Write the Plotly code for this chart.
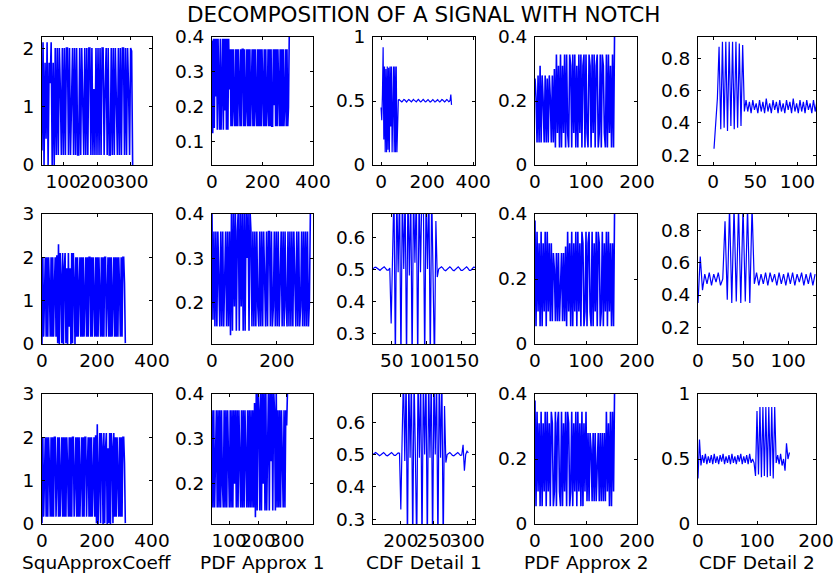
import plotly.graph_objects as go

# ---------------- data ----------------
TITLE = "DECOMPOSITION OF A SIGNAL WITH NOTCH"
XLABELS = ["SquApproxCoeff", "PDF Approx 1", "CDF Detail 1", "PDF Approx 2", "CDF Detail 2"]

# sample start / step for each series (sample positions on the x axis)
x_start = [38, 0, 0, 0, 1,
           0, 0, 23, 0, 0,
           0, 41, 158, 0, 0]
x_step = [3, 3, 3, 2, 2,
          3, 3, 2, 2, 2.5,
          3, 3, 2, 2, 2.5]

# Row 1
y11 = [0.25, 2.1, 0.0, 1.75, 0.45, 2.1, 0.0, 1.75, 1.4, 2.1, 0.0, 1.75, 0.0,
       2, .17, 2, .17, 2, 1.3, .17, 2, .17, 2,
       .17, 2, 2, .17, 2, .17, 1.3, 2, .17, 2,
       .17, 2, .17, .17, 2, .17, 2, 1.3, .17, 2,
       .17, 2, .17, 2, 2, .17, 2, .17, 1.3, .17,
       2, .17, 2, .17, 2, .17, 2, 2, .17, 1.3,
       2, .17, 2, .17, .17, 2, .17, 2, .17, 2,
       1.3, .17, 2, .17, 2, .17, 2, 2, .17, 2,
       .17, 2, 1.3, .17, 2, 1.95,
       0.0]
y12 = [0.39, 0.125, 0.395, 0.14, 0.395, 0.23, 0.395, 0.135, 0.395, 0.3, 0.135, 0.395,
       0.135, 0.25, 0.395, 0.135, 0.395, 0.19, 0.395, 0.135, 0.395, 0.135, 0.395, 0.25,
       .365, .145, .365, .145, .365, .205, .145, .365, .145, .365,
       .145, .365, .25, .145, .365, .145, .365, .365, .145, .365,
       .145, .205, .365, .145, .365, .145, .365, .145, .25, .365,
       .145, .365, .145, .365, .205, .145, .365, .145, .365, .145,
       .365, .145, .365, .25, .145, .365, .145, .365, .145, .205,
       .365, .145, .365, .145, .365, .145, .145, .365, .205, .365,
       .145, .365, .145, .365, .25, .145, .365, .145, .365, .145,
       .365, .145, .205, .365, .145, .365, .145, .2,
       0.41]
y13 = [0.45, 0.35, 0.55, 0.92, 0.2, 0.77, 0.1, 0.75, 0.1, 0.77, 0.12, 0.76,
       0.1, 0.77, 0.3, 0.77, 0.1, 0.6, 0.77, 0.1, 0.77, 0.1, 0.77, 0.1,
       0.5, 0.508, 0.512, 0.508, 0.5, 0.494,
       0.492, 0.498, 0.507, 0.512, 0.509, 0.5,
       0.494, 0.492, 0.499, 0.508, 0.512, 0.508,
       0.5, 0.494, 0.493, 0.5, 0.508, 0.512,
       0.507, 0.499, 0.493, 0.493, 0.5, 0.509,
       0.512, 0.507, 0.499, 0.493, 0.494, 0.501,
       0.509, 0.512, 0.506, 0.498, 0.493, 0.494,
       0.502, 0.51, 0.511, 0.505, 0.497, 0.492,
       0.495, 0.503, 0.51, 0.511, 0.505, 0.497,
       0.492, 0.496, 0.504, 0.511, 0.51, 0.503,
       0.496, 0.492, 0.497, 0.505, 0.511, 0.509,
       0.502, 0.495, 0.493, 0.498, 0.506, 0.511,
       0.508, 0.5, 0.494, 0.498, 0.506, 0.55, 0.47]
y14 = [0.27, 0.21, 0.07, 0.28, 0.07, 0.31, 0.07, 0.28, 0.2, 0.07,
       0.28, 0.07, 0.27, 0.07, 0.28, 0.21, 0.07, 0.28, 0.07, 0.3,
       .055, .345, .1, .31, .055, .345, .055, .31, .1, .345,
       .055, .345, .1, .055, .345, .31, .055, .345, .1, .345,
       .055, .31, .055, .345, .1, .345, .055, .31, .345, .055,
       .345, .1, .055, .345, .31, .055, .345, .1, .345, .055,
       .31, .345, .055, .1, .345, .055, .345, .31, .1, .055,
       .345, .055, .345, .1, .31, .055, .345, .055,
       0.41]
y15 = [0.24, 0.41, 0.55, 0.87, 0.36, 0.9, 0.37, 0.9, 0.35, 0.9,
       0.38, 0.9, 0.36, 0.9, 0.37, 0.89, 0.38, 0.88, 0.47,
       0.54, 0.47, 0.53, 0.46, 0.54, 0.48, 0.52, 0.46, 0.54, 0.47,
       0.53, 0.46, 0.55, 0.47, 0.52, 0.46, 0.54, 0.48, 0.53, 0.46,
       0.54, 0.47, 0.52, 0.46, 0.54, 0.48, 0.53, 0.46, 0.55, 0.47,
       0.52, 0.46, 0.54, 0.47, 0.53, 0.46, 0.54, 0.48, 0.52, 0.46,
       0.54, 0.47, 0.53]

# Row 2
y21 = [0.0, 2.0, 0.17, 1.3, 2.0, 0.17, 2.0, 0.17, 2.0, 1.3, 0.17, 2.0, 0.17, 2.0, 0.17, 1.3, 2.0, 0.17,
       2.05, 0.02, 2.3, 0.0, 2.1, 1.5, 0.02, 2.1, 0.0, 1.75, 2.1, 0.02, 1.75, 0.0, 2.1, 0.4,
       1.75, 0.0, 2.1, 0.02, 2.1, 1.4, 0.0,
       2, .17, 2, .17, 1.3, 2, .17, 2, .17, 2,
       .17, 1.3, 2, .17, 2, .17, 2, 2, .17, 2,
       .17, 2, 1.3, .17, 2, .17, 2, .17, 2, 1.3,
       .17, 2, .17, 2, .17, 2, 2, .17, 1.3, 2,
       .17, 2, .17, 2, .17, 1.3, 2, .17, 2, .17,
       2, .17, 2, 1.3, .17, 2, .17, 2, 2, 1.4,
       0.02]
y22 = [0.4, 0.16, 0.36, 0.145, 0.36, 0.145, 0.36, 0.19, 0.145, 0.36, 0.145, 0.36, 0.145,
       0.25, 0.36, 0.145, 0.36, 0.145, 0.36,
       0.125, 0.41, 0.135, 0.41, 0.19, 0.41, 0.135, 0.36, 0.41, 0.135, 0.41, 0.19, 0.41,
       0.135, 0.41, 0.135, 0.41, 0.3, 0.41, 0.135, 0.41, 0.36, 0.145,
       .36, .145, .36, .145, .36, .19, .145, .36, .145, .36,
       .145, .36, .25, .145, .36, .145, .36, .36, .145, .36,
       .145, .19, .36, .145, .36, .145, .36, .145, .25, .36,
       .145, .36, .145, .36, .19, .145, .36, .145, .36, .145,
       .36, .145, .36, .25, .145, .36, .145, .36, .145, .19,
       .36, .145, .36, .145, .36, .145, .36, .145, .2,
       0.41]
y23 = [0.5, 0.505, 0.506, 0.502, 0.497, 0.496, 0.5, 0.505, 0.507, 0.502, 0.497, 0.497, 0.503,
       0.33, 0.55,
       0.75, 0.2, 0.75, 0.49, 0.75, 0.2, 0.75, 0.5, 0.75, 0.2,
       0.75, 0.48, 0.75, 0.2, 0.75, 0.52, 0.75, 0.2, 0.75, 0.49,
       0.75, 0.75, 0.2, 0.75, 0.5, 0.75, 0.2, 0.75, 0.49, 0.2,
       0.65, 0.475,
       0.5, 0.505, 0.507, 0.503, 0.497, 0.495, 0.499, 0.505, 0.507, 0.503,
       0.497, 0.495, 0.5, 0.505, 0.507, 0.502, 0.496, 0.496, 0.5, 0.506,
       0.507, 0.502, 0.496, 0.496, 0.501, 0.506, 0.505]
y24 = [0.38, 0.055, 0.345, 0.1, 0.31, 0.055, 0.345, 0.055, 0.31, 0.1, 0.345, 0.055, 0.345, 0.1, 0.31,
       0.07, 0.31, 0.07, 0.28, 0.23, 0.07, 0.28, 0.07, 0.28, 0.07, 0.23, 0.28, 0.07, 0.28, 0.07,
       .3, .055, .345, .1, .31, .055, .345, .055, .31, .1,
       .345, .055, .345, .1, .31, .055, .345, .31, .055, .1,
       .345, .055, .31, .345, .1, .055, .345, .055, .31, .1,
       .345, .055, .345, .31, .055, .1, .345, .055, .31, .1,
       .345, .055, .345, .1, .31, .055, .31, .055,
       0.41]
y25 = [0.35, 0.64,
       0.43, 0.53, 0.47, 0.54, 0.46, 0.53, 0.48, 0.54, 0.46, 0.5,
       0.86, 0.37, 0.95, 0.35, 0.95, 0.36, 0.95, 0.35, 0.95, 0.36, 0.95, 0.35, 0.95,
       0.47, 0.54, 0.46, 0.53, 0.47, 0.54, 0.46, 0.54, 0.48, 0.53,
       0.46, 0.54, 0.47, 0.53, 0.46, 0.54, 0.47, 0.54, 0.46, 0.53,
       0.48, 0.54, 0.46, 0.53, 0.47, 0.54, 0.46, 0.53]

# Row 3
y31 = [0.02, 2, .17, 1.3, 2, .17, 2, .17, 2, 1.3,
       .17, 2, .17, 2, .17, 2, 2, .17, 1.3, 2,
       .17, 2, .17, 1.3, 2, .17, 2, .17, 2, .17,
       2, 1.3, .17, 2, .17, 2, .17, 2, 2, .17,
       1.3, 2, .17, 2, .17, 2, .17, 1.3, 2, .17,
       2, .17, 2, 2, .17, 1.3, 2, .17, 2, .17,
       2, .17, 1.3, 2, .17, 2.05,
       0.02, 2.3, 0.0, 1.75, 2.1, 0.02, 2.1, 1.75, 0.0, 2.1, 0.02, 1.75, 2.1, 0.0,
       1.75, 0.02, 2.1, 0.0, 2.1, 1.75, 0.02, 2.1, 0.17,
       2, .17, 2, 1.3, .17, 2, .17, 2, .17, 2, 2, 1.4,
       0.02]
y32 = [.364, .147, .364, .147, .25, .364, .147, .364, .147, .364,
       .147, .364, .2, .147, .364, .147, .364, .147, .364, .25,
       .147, .364, .147, .364, .147, .364, .2, .364, .147, .364,
       .147, .364, .25, .147, .364, .147, .364, .147, .364, .2,
       .147, .364, .147, .364, .147, .364, .147, .364, .147, .38,
       0.125, 0.41, 0.14, 0.41, 0.364, 0.14, 0.41, 0.14, 0.41, 0.2, 0.41, 0.14, 0.41,
       0.14, 0.364, 0.41, 0.14, 0.41, 0.25, 0.41, 0.14, 0.41, 0.364, 0.14, 0.41, 0.147,
       .364, .147, .364, .147, .364, .25, .147, .364, .147, .364,
       0.33, 0.41]
y33 = [0.5, 0.504, 0.506, 0.503, 0.498, 0.496, 0.499, 0.504, 0.506, 0.502, 0.497,
       0.496, 0.5, 0.505, 0.506, 0.502, 0.497, 0.497, 0.501, 0.505, 0.504,
       0.33, 0.55,
       0.75, 0.48, 0.75, 0.2, 0.75, 0.49, 0.75, 0.2, 0.75, 0.5, 0.2,
       0.75, 0.49, 0.75, 0.2, 0.75, 0.5, 0.75, 0.2, 0.75, 0.49,
       0.75, 0.2, 0.75, 0.5, 0.75, 0.2, 0.75, 0.49, 0.75, 0.2,
       0.65, 0.475,
       0.5, 0.504, 0.506, 0.502, 0.497, 0.496, 0.5, 0.505, 0.506, 0.502, 0.497, 0.498,
       0.53, 0.45, 0.5, 0.51, 0.505]
y34 = [.38, .055, .345, .1, .31, .055, .345, .055, .31, .1,
       .345, .055, .345, .1, .31, .055, .345, .31, .055, .1,
       .345, .055, .31, .345, .1, .055, .345, .055, .31, .1,
       .345, .055, .345, .31, .055, .1, .345, .055, .31, .1,
       .345, .055, .345, .1, .31, .055, .345, .055, .31, .1,
       .345,
       0.07, 0.28, 0.07, 0.28, 0.23, 0.07, 0.28, 0.07, 0.28, 0.07, 0.23, 0.28, 0.07,
       0.28, 0.07, 0.28, 0.07, 0.28, 0.07,
       .345, .1, .31, .055, .345, .055, .345, .1,
       0.41]
y35 = [0.35, 0.65,
       0.45, 0.53, 0.47, 0.54, 0.46, 0.52, 0.47, 0.53, 0.46, 0.54,
       0.47, 0.52, 0.46, 0.53, 0.48, 0.54, 0.46, 0.52, 0.47, 0.53,
       0.46, 0.54, 0.47, 0.52, 0.46, 0.53, 0.48, 0.54, 0.46, 0.52,
       0.47, 0.53, 0.46, 0.54, 0.47, 0.5, 0.47,
       0.37, 0.87, 0.38, 0.9, 0.36, 0.9, 0.37, 0.9, 0.36, 0.9, 0.37, 0.9, 0.35, 0.9,
       0.47, 0.53, 0.46, 0.54, 0.45, 0.5, 0.41, 0.62, 0.5, 0.55]

SERIES = [y11, y12, y13, y14, y15,
          y21, y22, y23, y24, y25,
          y31, y32, y33, y34, y35]

# axis limits and ticks for each panel
X_RANGE = [[38, 362], [0, 400], [-35, 408], [0, 200], [-18, 122],
           [0, 400], [0, 311], [23, 169], [0, 200], [0, 131],
           [0, 400], [41, 390], [158, 312], [0, 200], [0, 200]]
X_TICKS = [[100, 200, 300], [0, 200, 400], [0, 200, 400], [0, 100, 200], [0, 50, 100],
           [0, 200, 400], [0, 200], [50, 100, 150], [0, 100, 200], [0, 50, 100],
           [0, 200, 400], [100, 200, 300], [200, 250, 300], [0, 100, 200], [0, 100, 200]]
Y_RANGE = [[0, 2.19], [0.034, 0.4], [0, 1], [0, 0.4], [0.14, 0.93],
           [0, 3], [0.105, 0.4], [0.266, 0.672], [0, 0.4], [0.094, 0.906],
           [0, 3], [0.11, 0.4], [0.285, 0.687], [0, 0.4], [0, 1]]
Y_TICKS = [[0, 1, 2], [0.1, 0.2, 0.3, 0.4], [0, 0.5, 1], [0, 0.2, 0.4], [0.2, 0.4, 0.6, 0.8],
           [0, 1, 2, 3], [0.2, 0.3, 0.4], [0.3, 0.4, 0.5, 0.6], [0, 0.2, 0.4], [0.2, 0.4, 0.6, 0.8],
           [0, 1, 2, 3], [0.2, 0.3, 0.4], [0.3, 0.4, 0.5, 0.6], [0, 0.2, 0.4], [0, 0.5, 1]]

# ---------------- layout (pixels) ----------------
W, H = 837, 578
COL_PX = [(42, 152), (212, 313), (373, 475), (535, 637), (698, 816)]
ROW_PX = [(37, 165), (214, 344), (394, 524)]
COL_LINE_W = [1.6, 1.6, 1.2, 1.6, 1.2]
FONT = "DejaVu Sans"
TICK_SIZE = 18.5
LINE_COLOR = "#0000ff"


def fmt(v):
    return "{:g}".format(v)


fig = go.Figure()
layout = dict(
    width=W, height=H, template="none",
    margin=dict(l=0, r=0, t=0, b=0, pad=0),
    paper_bgcolor="white", plot_bgcolor="white", showlegend=False,
    font=dict(family=FONT, size=TICK_SIZE, color="black"),
)

for k, ys in enumerate(SERIES):
    r, c = divmod(k, 5)
    suf = "" if k == 0 else str(k + 1)
    xs = [x_start[k] + x_step[k] * i for i in range(len(ys))]
    x0, x1 = COL_PX[c]
    y0, y1 = ROW_PX[r]
    common = dict(
        ticks="inside", ticklen=3, tickwidth=1, tickcolor="black",
        showline=True, linecolor="black", linewidth=1, mirror="ticks",
        showgrid=False, zeroline=False, automargin=False, fixedrange=True,
        tickfont=dict(family=FONT, size=TICK_SIZE, color="black"),
    )
    layout["xaxis" + suf] = dict(
        domain=[x0 / W, x1 / W], range=X_RANGE[k], anchor="y" + suf,
        tickmode="array", tickvals=X_TICKS[k], ticktext=[fmt(v) for v in X_TICKS[k]],
        tickangle=0, ticklabelstandoff=0, **common)
    layout["yaxis" + suf] = dict(
        domain=[1 - y1 / H, 1 - y0 / H], range=Y_RANGE[k], anchor="x" + suf,
        tickmode="array", tickvals=Y_TICKS[k], ticktext=[fmt(v) for v in Y_TICKS[k]],
        ticklabelstandoff=3, **common)
    fig.add_trace(go.Scatter(
        x=xs, y=ys, mode="lines", line=dict(color=LINE_COLOR, width=COL_LINE_W[c]),
        xaxis="x" + suf, yaxis="y" + suf, hoverinfo="skip"))

annotations = [dict(text=TITLE, x=424 / W, y=1 - 14 / H, xref="paper", yref="paper",
                    xanchor="center", yanchor="middle", showarrow=False,
                    font=dict(family=FONT, size=21.5, color="black"))]
for c, lab in enumerate(XLABELS):
    x0, x1 = COL_PX[c]
    annotations.append(dict(text=lab, x=(x0 + x1) / 2 / W, y=1 - 562 / H,
                            xref="paper", yref="paper", xanchor="center", yanchor="middle",
                            showarrow=False, font=dict(family=FONT, size=18.5, color="black")))
layout["annotations"] = annotations
fig.update_layout(**layout)
fig.write_html("out.html")
